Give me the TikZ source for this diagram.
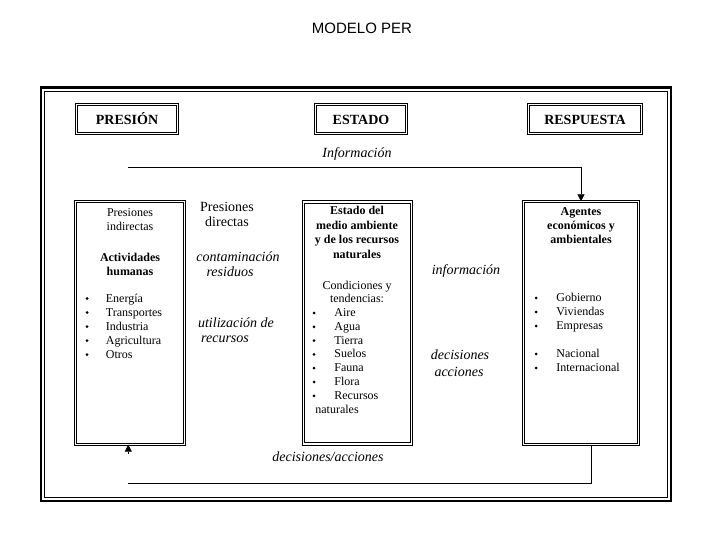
\documentclass[tikz,border=0pt]{standalone}
\usepackage{fontspec}
\setmainfont{Liberation Serif}
\newfontfamily\titulofont{Liberation Sans}
\usetikzlibrary{arrows.meta,positioning}

\tikzset{
  caja/.style={draw, double, double distance=1.3pt, line width=.8pt, inner sep=0pt},
  cabecera/.style={caja, minimum height=29pt, text height=10pt, text depth=0pt,
    font=\bfseries\fontsize{14}{16}\selectfont},
  texto/.style={inner sep=0pt, align=center, font=\fontsize{12}{14}\selectfont},
  negrita/.style={inner sep=0pt, align=center, font=\bfseries\fontsize{12}{14}\selectfont},
  item/.style={inner sep=0pt, anchor=base west, font=\fontsize{12}{14}\selectfont},
  bala/.style={circle, fill, inner sep=0pt, minimum size=3pt},
  etiqueta/.style={inner sep=0pt, font=\itshape\fontsize{14}{16}\selectfont},
  flecha/.style={-{Triangle[length=7pt,width=7pt]}},
}

\begin{document}
\begin{tikzpicture}  % ------ Modelo Presion-Estado-Respuesta -----------
      [x={(1pt,0pt)},y={(0pt,-1pt)}, line width=.8pt]
    \useasboundingbox (0,0) rectangle (720,540);
    \node[font=\titulofont\fontsize{15}{18}\selectfont, inner sep=0pt] (titulo) at (362,28) {MODELO PER};

    % marco
    \draw[line width=2.4pt] (41,87.5) rectangle (671,501);
    \draw[line width=.8pt] (44.5,91) rectangle (667.5,497.5);

    % cabeceras
    \node[cabecera, minimum width=101.5pt] (presion) at (127,119.3) {PRESIÓN};
    \node[cabecera, minimum width=91.5pt] (estado) at (361,119.3) {ESTADO};
    \node[cabecera, minimum width=113pt] (respuesta) at (585,119.3) {RESPUESTA};

    % cajas grandes
    \node[caja, minimum width=109.5pt, minimum height=242.5pt] (actividades) at (130,323) {};
    \node[caja, line width=1.1pt, minimum width=108pt, minimum height=242pt] (medio) at (357.5,323) {};
    \node[caja, minimum width=115.5pt, minimum height=242.5pt] (agentes) at (581,323) {};

    % presion
    \node[texto] (indirectas) at (130,219.5) {Presiones\\indirectas};
    \node[negrita] (humanas) at (130,264.5) {Actividades\\humanas};
    \foreach \t [count=\i] in {Energía,Transportes,Industria,Agricultura,Otros}{
      \node[bala] (pb\i) at (87,{284.5+14*\i}) {};
      \node[item] (pi\i) at (105.5,{288+14*\i}) {\t};
    }

    \node[inner sep=0pt, align=center, font=\fontsize{14}{15}\selectfont] (directas) at (227,214.5) {Presiones\\directas};
    \node[etiqueta] (contaminacion) at (238,256.5) {contaminación};
    \node[etiqueta] (residuos) at (230,272) {residuos};
    \node[etiqueta] (utilizacion) at (236,323) {utilización de};
    \node[etiqueta] (recursos) at (225,339) {recursos};

    % estado
    \node[negrita, font=\bfseries\fontsize{12}{14.5}\selectfont] (estadoMedio) at (357,232.5) {Estado del\\medio ambiente\\y de los recursos\\naturales};
    \node[texto, font=\fontsize{12}{13}\selectfont] (condiciones) at (357,292) {Condiciones y\\tendencias:};
    \foreach \t [count=\i] in {Aire,Agua,Tierra,Suelos,Fauna,Flora,Recursos}{
      \node[bala] (eb\i) at (314,{299.2+13.8*\i}) {};
      \node[item] (ei\i) at (334,{302.7+13.8*\i}) {\t};
    }
    \node[item] (naturales) at (315,413.5) {naturales};

    \node[etiqueta] (informacion) at (466,271) {información};
    \node[etiqueta] (decisiones) at (460,355) {decisiones};
    \node[etiqueta] (acciones) at (459,372) {acciones};

    % respuesta
    \node[negrita] (agentesTit) at (581,226) {Agentes\\económicos y\\ambientales};
    \foreach \t/\y [count=\i] in {Gobierno/298,Viviendas/312,Empresas/326,Nacional/354,Internacional/368}{
      \node[bala] (rb\i) at (536,\y) {};
      \node[item] (ri\i) at (556,{\y+3.5}) {\t};
    }

    % flujos
    \node[etiqueta] (infoArriba) at (357,154) {Información};
    \coordinate (infoIni) at (128,167);
    \draw[flecha, line width=.6pt] (infoIni) -| (agentes.north);

    \node[etiqueta] (decAbajo) at (328,457) {decisiones/acciones};
    \coordinate (decFin) at (128,483);
    \draw[line width=.6pt] ([xshift=10pt]agentes.south) |- (decFin);
    \draw[flecha, line width=.6pt] ([xshift=-1.7pt,yshift=-9pt]actividades.south) -- ([xshift=-1.7pt]actividades.south);
\end{tikzpicture}
\end{document}
